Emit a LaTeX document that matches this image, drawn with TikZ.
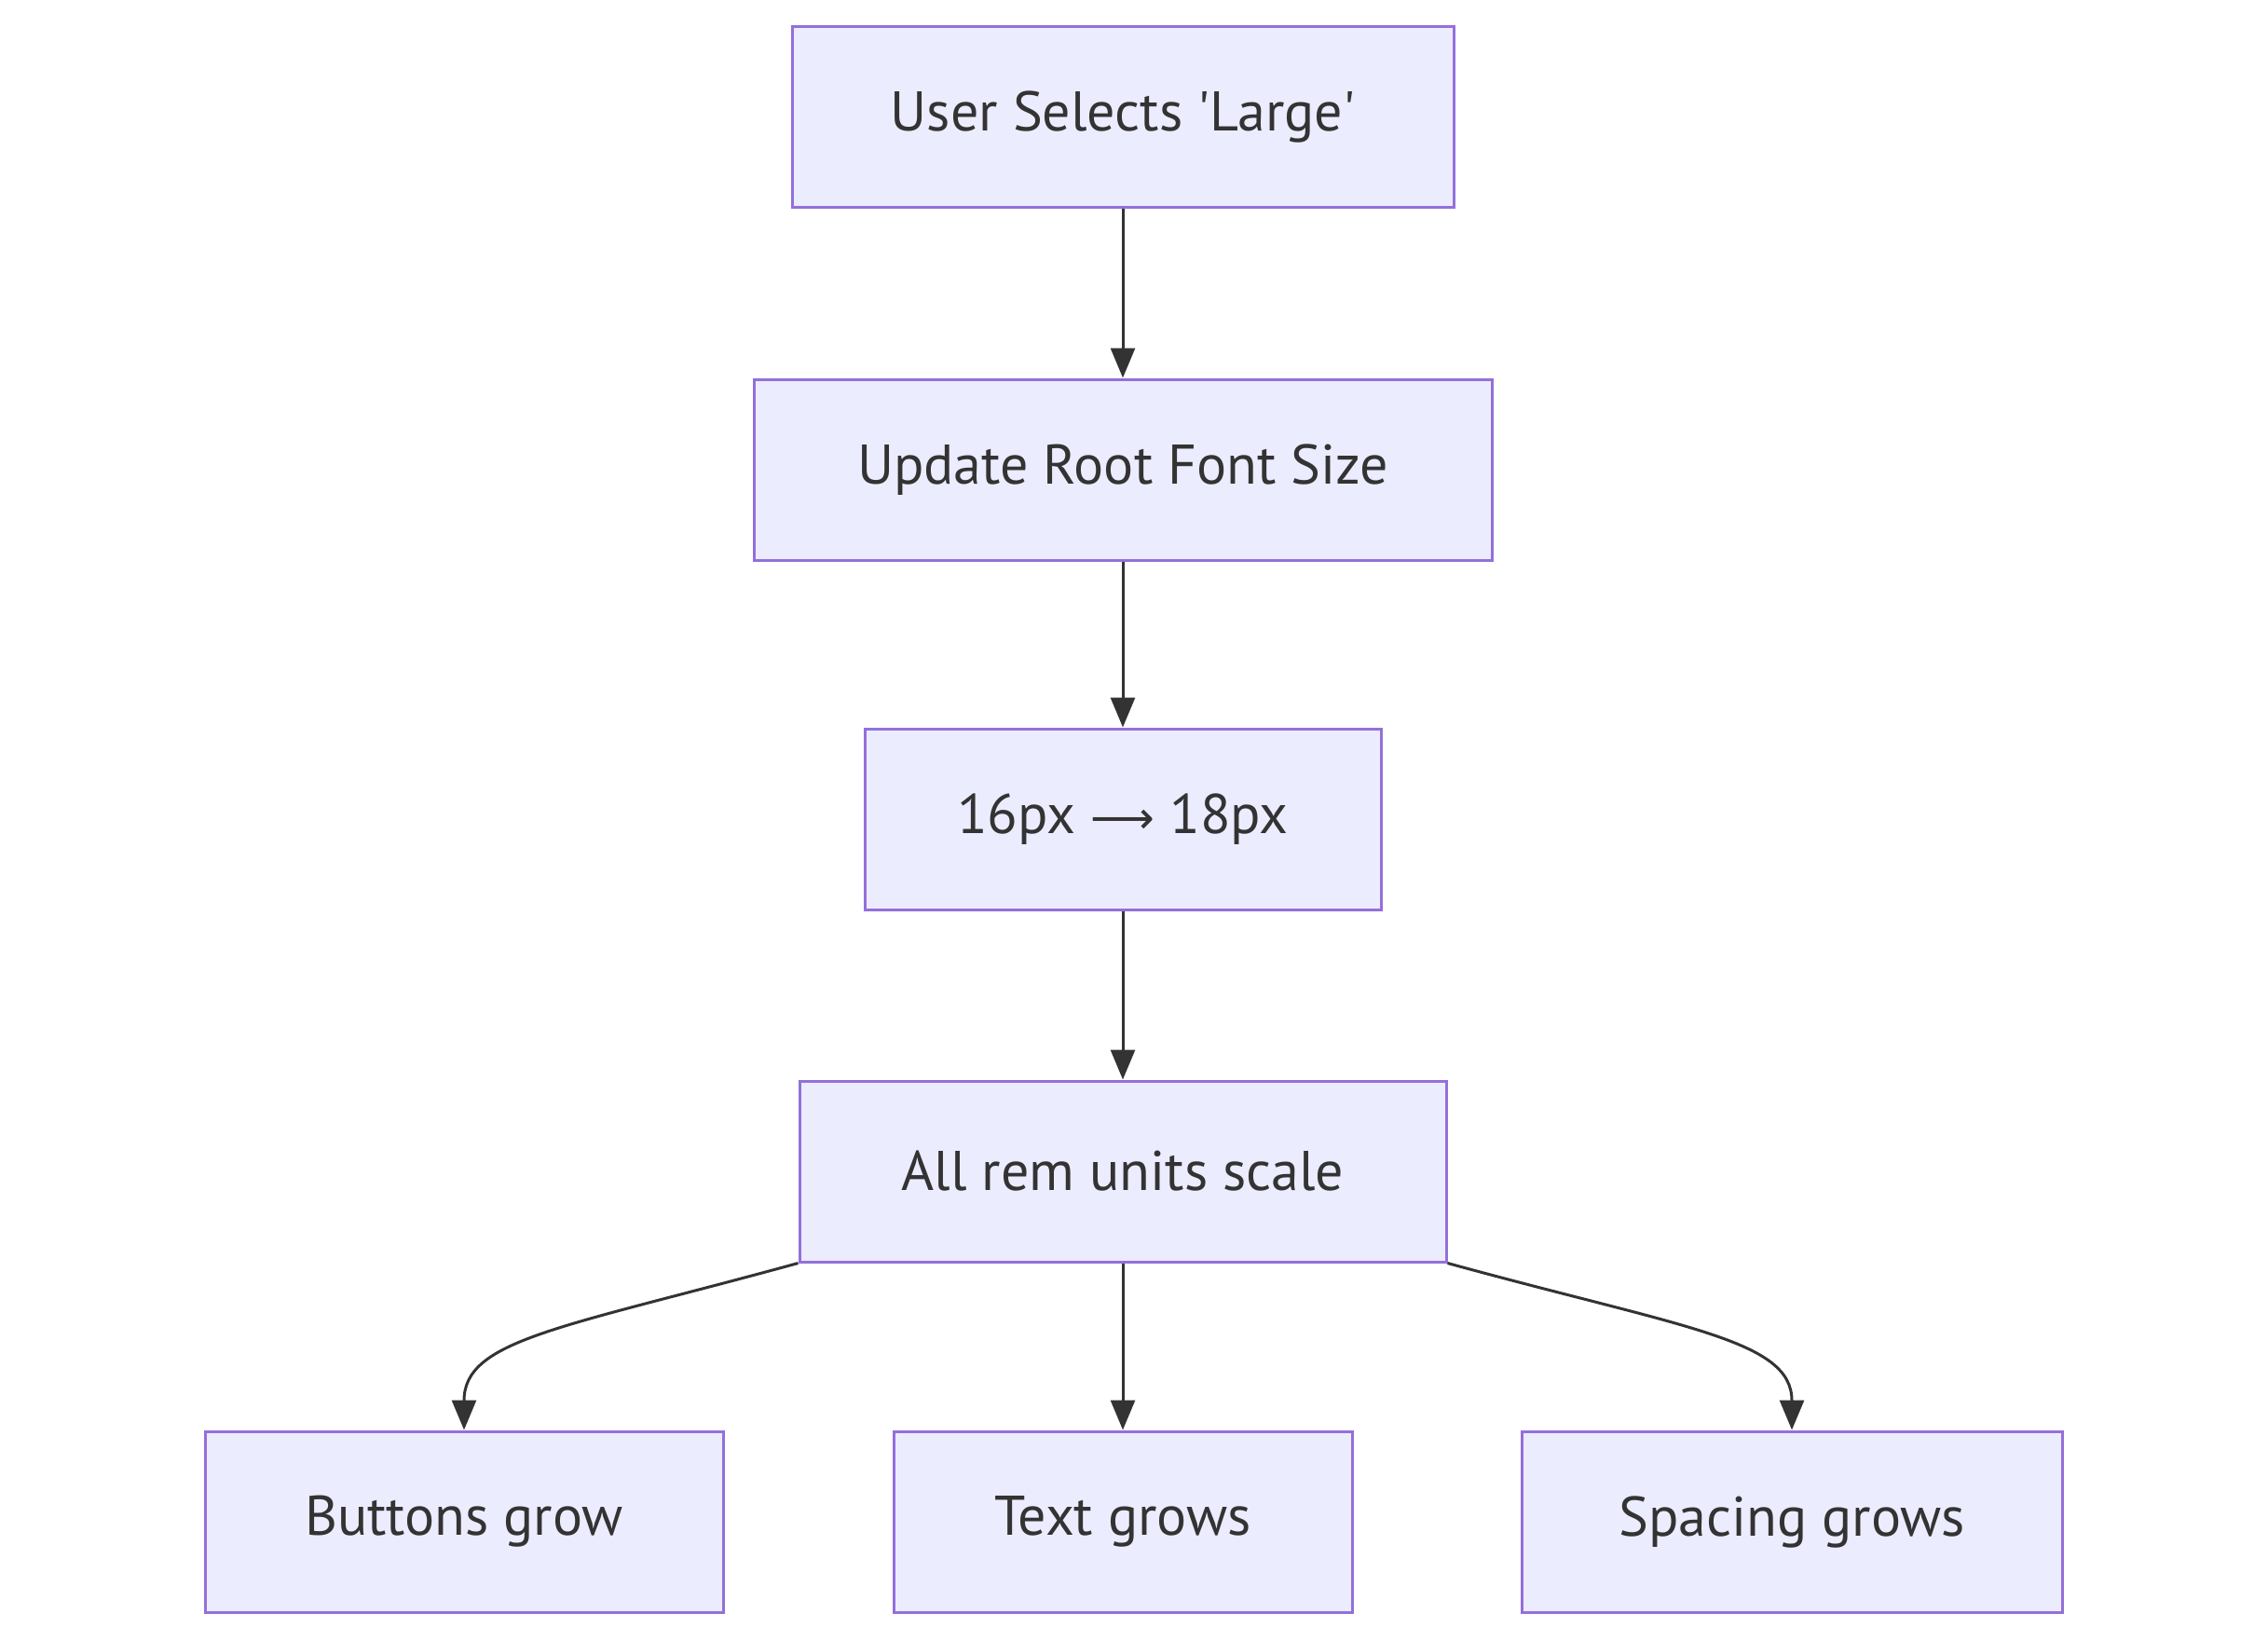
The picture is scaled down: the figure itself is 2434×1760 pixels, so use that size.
\documentclass[tikz,border=0pt]{standalone}
\usepackage{fontspec}
\setmainfont{PT Sans}
\newfontfamily\arrowfont{DejaVu Sans}
\usepackage{tikz}
\usetikzlibrary{arrows.meta}
\definecolor{BoxFill}{HTML}{ECECFF}
\definecolor{BoxLine}{HTML}{9370DB}
\definecolor{InkGray}{HTML}{333333}
\tikzset{
  step box/.style={draw=BoxLine,fill=BoxFill,line width=1.5pt,text=InkGray,
    minimum height=97pt,inner sep=0pt,font=\fontsize{30}{36}\selectfont},
  link/.style={draw=InkGray,line width=1.5pt,-{Triangle[length=16pt,width=13pt]}},
}

\begin{document}
\begin{tikzpicture}[x=0.5pt,y=-0.5pt]
\useasboundingbox (0,0) rectangle (2434,1760);
\node[step box,minimum width=355pt] (sel) at (1205,126) {User Selects \textquotesingle Large\textquotesingle};
\node[step box,minimum width=396pt] (root) at (1205,504) {Update Root Font Size};
\node[step box,minimum width=277pt] (px) at (1205,879) {16px {\arrowfont\fontsize{24}{30}\selectfont ⟶} 18px};
\node[step box,minimum width=347pt] (rem) at (1205,1257) {All rem units scale};
\node[step box,minimum width=278pt] (btn) at (498,1633) {Buttons grow};
\node[step box,minimum width=246pt] (txt) at (1205,1633) {Text grows};
\node[step box,minimum width=290pt] (spc) at (1923,1633) {Spacing grows};
\draw[link] (sel) -- (root);
\draw[link] (root) -- (px);
\draw[link] (px) -- (rem);
\draw[link] (rem) -- (txt);
\draw[link] (rem.south west) .. controls +(-255,70) and +(0,-97) .. (btn.north);
\draw[link] (rem.south east) .. controls +(255,70) and +(0,-97) .. (spc.north);
\end{tikzpicture}
\end{document}
